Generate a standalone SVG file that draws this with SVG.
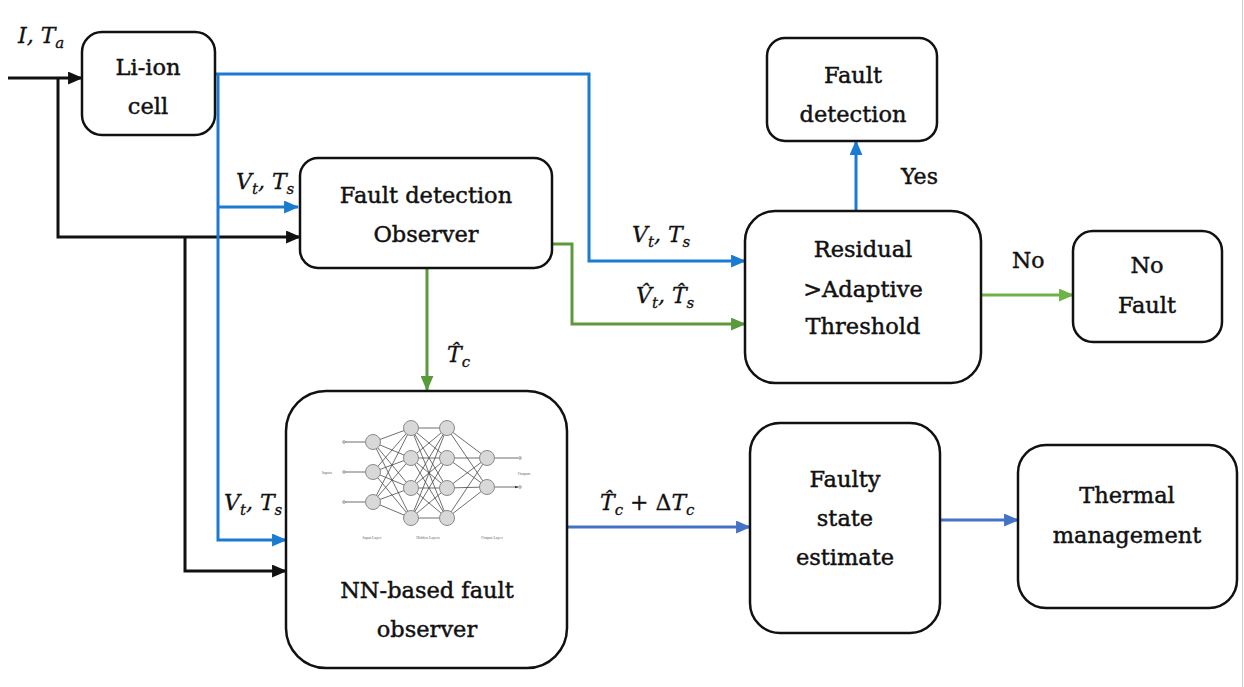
<svg xmlns="http://www.w3.org/2000/svg" width="1244" height="687" viewBox="0 0 1244 687">
  <defs>
    <style>
      .box { fill: #fff; stroke: #111; stroke-width: 2.5; }
      .lbl { font-family: "DejaVu Serif", "Liberation Serif", serif; font-size: 22.5px; fill: #111; stroke: #111; stroke-width: 0.45; text-anchor: middle; }
      .tag { font-family: "DejaVu Serif", "Liberation Serif", serif; font-size: 22px; fill: #111; stroke: #111; stroke-width: 0.45; }
      .m { font-family: "DejaVu Serif", "Liberation Serif", serif; font-style: italic; font-size: 22px; fill: #111; stroke: #111; stroke-width: 0.3; }
      .sub { font-size: 15px; }
      .c { fill: none; stroke-width: 3; }
      .k { stroke: #111; }
      .b { stroke: #1a7bd0; }
      .g { stroke: #5b9a3a; }
      .gl { stroke: #6fb348; }
      .b2 { stroke: #4472c4; }
      .nn-node { fill: #d8d8d8; stroke: #8a8a8a; stroke-width: 1; }
      .nn-edge { fill: none; stroke: #4a4a4a; stroke-width: 0.8; }
      .nn-txt { font-family: "Liberation Serif", serif; font-size: 4px; fill: #666; text-anchor: middle; }
    </style>
    <marker id="ak" viewBox="0 0 14 12" refX="13" refY="6" markerWidth="15" markerHeight="13" markerUnits="userSpaceOnUse" orient="auto"><path d="M0,0 L14,6 L0,12 z" fill="#111"/></marker>
    <marker id="ab" viewBox="0 0 14 12" refX="13" refY="6" markerWidth="15" markerHeight="13" markerUnits="userSpaceOnUse" orient="auto"><path d="M0,0 L14,6 L0,12 z" fill="#1a7bd0"/></marker>
    <marker id="ag" viewBox="0 0 14 12" refX="13" refY="6" markerWidth="15" markerHeight="13" markerUnits="userSpaceOnUse" orient="auto"><path d="M0,0 L14,6 L0,12 z" fill="#5b9a3a"/></marker>
    <marker id="agl" viewBox="0 0 14 12" refX="13" refY="6" markerWidth="15" markerHeight="13" markerUnits="userSpaceOnUse" orient="auto"><path d="M0,0 L14,6 L0,12 z" fill="#6fb348"/></marker>
    <marker id="ab2" viewBox="0 0 14 12" refX="13" refY="6" markerWidth="15" markerHeight="13" markerUnits="userSpaceOnUse" orient="auto"><path d="M0,0 L14,6 L0,12 z" fill="#4472c4"/></marker>
    <marker id="asm" viewBox="0 0 6 4" refX="5" refY="2" markerWidth="4" markerHeight="3" markerUnits="userSpaceOnUse" orient="auto"><path d="M0,0 L6,2 L0,4 z" fill="#333"/></marker>
  </defs>

  <rect width="1244" height="687" fill="#fff"/>
  <line x1="1242.5" y1="0" x2="1242.5" y2="687" stroke="#cfcfcf" stroke-width="1"/>

  <!-- connectors -->
  <g id="connectors">
    <path class="c k" d="M8,78 H82" marker-end="url(#ak)"/>
    <path class="c k" d="M58,78 V237 H300" marker-end="url(#ak)"/>
    <path class="c k" d="M185,237 V571 H286" marker-end="url(#ak)"/>
    <path class="c b" d="M215,74 H589 V261 H745" marker-end="url(#ab)"/>
    <path class="c b" d="M218,74 V540 H286" marker-end="url(#ab)"/>
    <path class="c b" d="M218,207 H298" marker-end="url(#ab)"/>
    <path class="c b" d="M856,211 V141" marker-end="url(#ab)"/>
    <path class="c g" d="M552,244 H572 V324 H745" marker-end="url(#ag)"/>
    <path class="c g" d="M427,268 V390" marker-end="url(#ag)"/>
    <path class="c gl" d="M981,295 H1073" marker-end="url(#agl)"/>
    <path class="c b2" d="M567,527 H750" marker-end="url(#ab2)"/>
    <path class="c b2" d="M940,520 H1018" marker-end="url(#ab2)"/>
  </g>

  <!-- connector labels -->
  <g id="labels">
    <text class="m" x="18" y="43">I, T<tspan class="sub" dy="5">a</tspan></text>
    <text class="m" x="236" y="189">V<tspan class="sub" dy="5">t</tspan><tspan dy="-5">, T</tspan><tspan class="sub" dy="5">s</tspan></text>
    <text class="m" x="632" y="242">V<tspan class="sub" dy="5">t</tspan><tspan dy="-5">, T</tspan><tspan class="sub" dy="5">s</tspan></text>
    <text class="m" x="636" y="303">V&#x302;<tspan class="sub" dy="5">t</tspan><tspan dy="-5">, T&#x302;</tspan><tspan class="sub" dy="5">s</tspan></text>
    <text class="m" x="447" y="362">T&#x302;<tspan class="sub" dy="5">c</tspan></text>
    <text class="m" x="224" y="510">V<tspan class="sub" dy="5">t</tspan><tspan dy="-5">, T</tspan><tspan class="sub" dy="5">s</tspan></text>
    <text class="m" x="600" y="510">T&#x302;<tspan class="sub" dy="5">c</tspan><tspan dy="-5" font-style="normal"> + Δ</tspan><tspan>T</tspan><tspan class="sub" dy="5">c</tspan></text>
    <text class="tag" x="901" y="184">Yes</text>
    <text class="tag" x="1012" y="268">No</text>
  </g>

  <g id="li-ion-cell">
    <rect class="box" x="82" y="32" width="133" height="103" rx="20"/>
    <text class="lbl" x="148" y="75">Li-ion</text>
    <text class="lbl" x="148" y="114">cell</text>
  </g>

  <g id="fault-detection-observer">
    <rect class="box" x="300" y="158" width="252" height="110" rx="18"/>
    <text class="lbl" x="426" y="203">Fault detection</text>
    <text class="lbl" x="426" y="242">Observer</text>
  </g>

  <g id="nn-fault-observer">
    <rect class="box" x="286" y="391" width="281" height="277" rx="40"/>
    <g id="nn-sketch">
      <path class="nn-edge" d="M373,442 L411,428 M373,442 L411,458 M373,442 L411,488 M373,442 L411,518 M373,472 L411,428 M373,472 L411,458 M373,472 L411,488 M373,472 L411,518 M373,502 L411,428 M373,502 L411,458 M373,502 L411,488 M373,502 L411,518 M411,428 L447,428 M411,428 L447,458 M411,428 L447,488 M411,428 L447,518 M411,458 L447,428 M411,458 L447,458 M411,458 L447,488 M411,458 L447,518 M411,488 L447,428 M411,488 L447,458 M411,488 L447,488 M411,488 L447,518 M411,518 L447,428 M411,518 L447,458 M411,518 L447,488 M411,518 L447,518 M447,428 L487,458 M447,428 L487,487 M447,458 L487,458 M447,458 L487,487 M447,488 L487,458 M447,488 L487,487 M447,518 L487,458 M447,518 L487,487"/>
      <path class="nn-edge" d="M344,442 H365 M344,472 H365 M344,502 H365 M495,458 H518 M495,487 H518" marker-end="url(#asm)"/>
      <g fill="#fff" stroke="#555" stroke-width="0.6">
        <circle cx="344" cy="442" r="1.3"/>
        <circle cx="344" cy="472" r="1.3"/>
        <circle cx="344" cy="502" r="1.3"/>
        <circle cx="520" cy="458" r="1.3"/>
        <circle cx="520" cy="487" r="1.3"/>
      </g>
      <circle class="nn-node" cx="373" cy="442" r="7.5"/>
      <circle class="nn-node" cx="373" cy="472" r="7.5"/>
      <circle class="nn-node" cx="373" cy="502" r="7.5"/>
      <circle class="nn-node" cx="411" cy="428" r="7.5"/>
      <circle class="nn-node" cx="411" cy="458" r="7.5"/>
      <circle class="nn-node" cx="411" cy="488" r="7.5"/>
      <circle class="nn-node" cx="411" cy="518" r="7.5"/>
      <circle class="nn-node" cx="447" cy="428" r="7.5"/>
      <circle class="nn-node" cx="447" cy="458" r="7.5"/>
      <circle class="nn-node" cx="447" cy="488" r="7.5"/>
      <circle class="nn-node" cx="447" cy="518" r="7.5"/>
      <circle class="nn-node" cx="487" cy="458" r="7.5"/>
      <circle class="nn-node" cx="487" cy="487" r="7.5"/>
      <text class="nn-txt" x="327" y="474">Inputs</text>
      <text class="nn-txt" x="524" y="475">Outputs</text>
      <text class="nn-txt" x="372" y="539">Input Layer</text>
      <text class="nn-txt" x="428" y="539">Hidden Layers</text>
      <text class="nn-txt" x="492" y="539">Output Layer</text>
    </g>
    <text class="lbl" x="427" y="598">NN-based fault</text>
    <text class="lbl" x="427" y="637">observer</text>
  </g>

  <g id="fault-detection">
    <rect class="box" x="767" y="38" width="170" height="103" rx="18"/>
    <text class="lbl" x="853" y="83">Fault</text>
    <text class="lbl" x="853" y="122">detection</text>
  </g>

  <g id="residual-threshold">
    <rect class="box" x="745" y="211" width="236" height="172" rx="30"/>
    <text class="lbl" x="863" y="257">Residual</text>
    <text class="lbl" x="863" y="297">&gt;Adaptive</text>
    <text class="lbl" x="863" y="334">Threshold</text>
  </g>

  <g id="no-fault">
    <rect class="box" x="1073" y="231" width="149" height="111" rx="20"/>
    <text class="lbl" x="1147" y="273">No</text>
    <text class="lbl" x="1147" y="313">Fault</text>
  </g>

  <g id="faulty-state-estimate">
    <rect class="box" x="750" y="423" width="190" height="210" rx="30"/>
    <text class="lbl" x="845" y="487">Faulty</text>
    <text class="lbl" x="845" y="526">state</text>
    <text class="lbl" x="845" y="565">estimate</text>
  </g>

  <g id="thermal-management">
    <rect class="box" x="1018" y="445" width="219" height="163" rx="28"/>
    <text class="lbl" x="1127" y="503">Thermal</text>
    <text class="lbl" x="1127" y="543">management</text>
  </g>
</svg>
